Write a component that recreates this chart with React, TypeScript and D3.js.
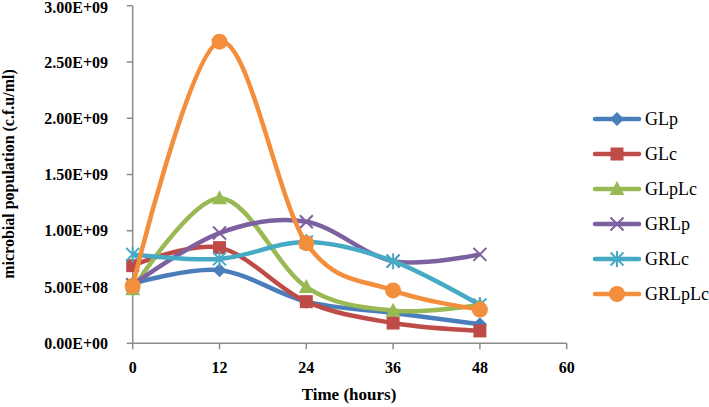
import { useEffect, useRef } from 'react'
import * as d3 from 'd3'

const hours = [0, 12, 24, 36, 48]
const seriesNames = ['GLp', 'GLc', 'GLpLc', 'GRLp', 'GRLc', 'GRLpLc']
const glp = [5.3e8, 6.5e8, 3.7e8, 2.7e8, 1.7e8]
const glc = [6.9e8, 8.5e8, 3.7e8, 1.8e8, 1.1e8]
const glplc = [4.8e8, 1.29e9, 5.0e8, 2.9e8, 3.4e8]
const grlp = [5.2e8, 9.8e8, 1.08e9, 7.3e8, 7.9e8]
const grlc = [7.9e8, 7.5e8, 9.0e8, 7.3e8, 3.4e8]
const grlplc = [5.1e8, 2.68e9, 8.9e8, 4.7e8, 3.0e8]
const xTicks = [0, 12, 24, 36, 48, 60]
const yTicks = [0, 5e8, 1e9, 1.5e9, 2e9, 2.5e9, 3e9]

const colors = ['#4A7EBB', '#BE4B48', '#98B954', '#7D60A0', '#46AAC5', '#F28E3C']
const markers = ['diamond', 'square', 'triangle', 'x', 'asterisk', 'circle']

function sci(v: number) {
  if (v === 0) return '0.00E+00'
  const e = Math.floor(Math.log10(v))
  const m = v / Math.pow(10, e)
  return `${m.toFixed(2)}E+${String(e).padStart(2, '0')}`
}

function drawMarker(g: any, type: string, x: number, y: number, color: string) {
  if (type === 'diamond') {
    g.append('path').attr('d', `M${x},${y - 7}L${x + 7},${y}L${x},${y + 7}L${x - 7},${y}Z`).attr('fill', color)
  } else if (type === 'square') {
    g.append('rect').attr('x', x - 6.5).attr('y', y - 6.5).attr('width', 13).attr('height', 13).attr('fill', color)
  } else if (type === 'triangle') {
    g.append('path').attr('d', `M${x},${y - 8}L${x + 7.5},${y + 6}L${x - 7.5},${y + 6}Z`).attr('fill', color)
  } else if (type === 'circle') {
    g.append('circle').attr('cx', x).attr('cy', y).attr('r', 8).attr('fill', color)
  } else if (type === 'x') {
    g.append('path').attr('d', `M${x - 6.5},${y - 6.5}L${x + 6.5},${y + 6.5}M${x - 6.5},${y + 6.5}L${x + 6.5},${y - 6.5}`)
      .attr('stroke', color).attr('stroke-width', 2)
  } else if (type === 'asterisk') {
    g.append('path').attr('d', `M${x - 6.5},${y - 6.5}L${x + 6.5},${y + 6.5}M${x - 6.5},${y + 6.5}L${x + 6.5},${y - 6.5}M${x},${y - 8}L${x},${y + 8}`)
      .attr('stroke', color).attr('stroke-width', 2)
  }
}

function App() {
  const chartRef = useRef<SVGSVGElement>(null)

  useEffect(() => {
    const data = [glp, glc, glplc, grlp, grlc, grlplc]
    const svg = d3.select(chartRef.current)
    svg.selectAll('*').remove()

    const x = d3.scaleLinear().domain([0, 60]).range([132.7, 566.7])
    const y = d3.scaleLinear().domain([0, 3e9]).range([343.3, 5.7])
    const axisColor = '#8C8C8C'
    const font = '"Liberation Serif", "Times New Roman", serif'

    // axes
    svg.append('line').attr('x1', x(0)).attr('x2', x(0)).attr('y1', y(3e9)).attr('y2', y(0))
      .attr('stroke', axisColor).attr('stroke-width', 1.5)
    svg.append('line').attr('x1', x(0)).attr('x2', x(60)).attr('y1', y(0)).attr('y2', y(0))
      .attr('stroke', axisColor).attr('stroke-width', 1.5)

    yTicks.forEach(t => {
      svg.append('line').attr('x1', x(0) - 6).attr('x2', x(0)).attr('y1', y(t)).attr('y2', y(t))
        .attr('stroke', axisColor).attr('stroke-width', 1.5)
      // top label sits right at the edge, nudge it down a touch
      const ty = t === 3e9 ? y(t) + 1.5 : y(t)
      svg.append('text').attr('x', 108).attr('y', ty).attr('dy', '0.35em')
        .attr('text-anchor', 'end').attr('font-family', font).attr('font-weight', 'bold')
        .attr('font-size', 16).attr('fill', '#000').text(sci(t))
    })
    xTicks.forEach(t => {
      svg.append('line').attr('x1', x(t)).attr('x2', x(t)).attr('y1', y(0)).attr('y2', y(0) + 6)
        .attr('stroke', axisColor).attr('stroke-width', 1.5)
      svg.append('text').attr('x', x(t)).attr('y', 373)
        .attr('text-anchor', 'middle').attr('font-family', font).attr('font-weight', 'bold')
        .attr('font-size', 16).attr('fill', '#000').text(t)
    })

    // axis titles
    svg.append('text').attr('x', 349).attr('y', 400).attr('text-anchor', 'middle')
      .attr('font-family', font).attr('font-weight', 'bold').attr('font-size', 17).attr('fill', '#000')
      .text('Time (hours)')
    svg.append('text').attr('transform', 'translate(14,174) rotate(-90)').attr('text-anchor', 'middle')
      .attr('font-family', font).attr('font-weight', 'bold').attr('font-size', 16).attr('fill', '#000')
      .text('microbial population (c.f.u/ml)')

    // series
    const line = d3.line<number>()
      .x((d, i) => x(hours[i]))
      .y(d => y(d))
      .curve(d3.curveCardinal.tension(0))

    data.forEach((values, s) => {
      const g = svg.append('g')
      g.append('path').attr('d', line(values)).attr('fill', 'none')
        .attr('stroke', colors[s]).attr('stroke-width', 4.5).attr('stroke-linejoin', 'round')
      values.forEach((v, i) => drawMarker(g, markers[s], x(hours[i]), y(v), colors[s]))
    })

    // legend
    seriesNames.forEach((name, s) => {
      const ly = 119 + s * 35
      const g = svg.append('g')
      g.append('line').attr('x1', 595).attr('x2', 639).attr('y1', ly).attr('y2', ly)
        .attr('stroke', colors[s]).attr('stroke-width', 4.5).attr('stroke-linecap', 'round')
      drawMarker(g, markers[s], 617, ly, colors[s])
      g.append('text').attr('x', 645).attr('y', ly).attr('dy', '0.35em')
        .attr('font-family', font).attr('font-size', 18).attr('fill', '#000').text(name)
    })
  }, [])

  return (
    <svg ref={chartRef} width={709} height={407}
      style={{ position: 'absolute', left: 0, top: 0, background: '#fff' }} />
  )
}

export default App
